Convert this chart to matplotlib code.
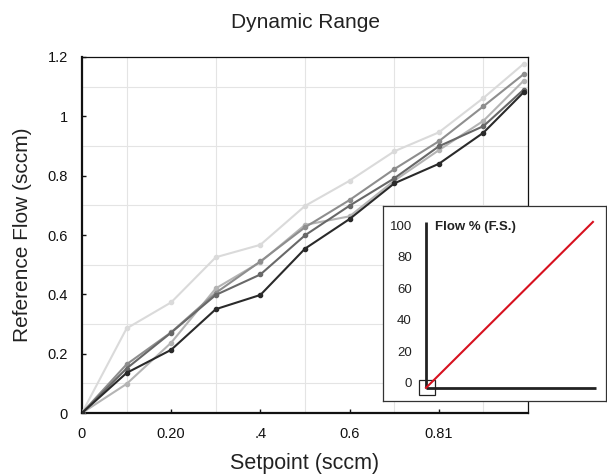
import matplotlib
matplotlib.use("Agg")
import matplotlib.pyplot as plt
from matplotlib.patches import Rectangle

plt.rcParams['font.family'] = ['Liberation Sans', 'DejaVu Sans']

# ---- data ----
setpoint = [0, 0.1, 0.2, 0.3, 0.4, 0.5, 0.6, 0.7, 0.8, 0.9, 0.99]
series_a = [0, 0.285, 0.373, 0.525, 0.567, 0.698, 0.783, 0.882, 0.946, 1.062, 1.177]
series_b = [0, 0.098, 0.237, 0.420, 0.509, 0.634, 0.663, 0.783, 0.886, 0.985, 1.120]
series_c = [0, 0.164, 0.272, 0.405, 0.511, 0.626, 0.718, 0.822, 0.916, 1.034, 1.142]
series_d = [0, 0.150, 0.271, 0.398, 0.467, 0.599, 0.699, 0.791, 0.899, 0.967, 1.090]
series_e = [0, 0.135, 0.213, 0.350, 0.398, 0.554, 0.654, 0.774, 0.840, 0.945, 1.081]
series_colors = ['#dadada', '#b4b4b4', '#8e8e8e', '#686868', '#2a2a2a']

xtick_vals = [0, 0.2, 0.4, 0.6, 0.8]
xtick_labels = ['0', '0.20', '.4', '0.6', '0.81']
ytick_vals = [0, 0.2, 0.4, 0.6, 0.8, 1.0, 1.2]
ytick_labels = ['0', '0.2', '0.4', '0.6', '0.8', '1', '1.2']

# inset schematic (Flow % of full scale)
inset_flow = [0, 100]
inset_ticks = [0, 20, 40, 60, 80, 100]

fig = plt.figure(figsize=(6.07, 4.75), dpi=100)
ax = fig.add_axes([0.135, 0.1305, 0.735, 0.7495])

for ys, c in zip([series_a, series_b, series_c, series_d, series_e], series_colors):
    ax.plot(setpoint, ys, color=c, lw=1.5, marker='o', ms=3, zorder=3)

ax.set_xlim(0, 1.0)
ax.set_ylim(0, 1.2)
ax.set_xticks([i / 10 for i in range(11)], minor=True)
ax.set_yticks([i / 10 for i in range(13)], minor=True)
ax.grid(which='minor', color='#e4e4e4', lw=0.8)
ax.set_axisbelow(True)
ax.set_xticks(xtick_vals)
ax.set_xticklabels(xtick_labels)
ax.set_yticks(ytick_vals)
ax.set_yticklabels(ytick_labels)
ax.tick_params(which='major', direction='in', length=3, width=1, colors='#111111',
               labelsize=10.5, pad=10)
ax.tick_params(which='minor', length=0)
for lbl in ax.get_xticklabels():
    lbl.set_x(lbl.get_position()[0])
for s in ['left', 'bottom']:
    ax.spines[s].set_linewidth(1.6)
    ax.spines[s].set_color('#111111')
for s in ['top', 'right']:
    ax.spines[s].set_linewidth(0.9)
    ax.spines[s].set_color('#111111')

ax.set_title('Dynamic Range', fontsize=15, color='#222222', pad=21)
ax.set_xlabel('Setpoint (sccm)', fontsize=15.5, color='#222222', labelpad=9)
ax.set_ylabel('Reference Flow (sccm)', fontsize=15, color='#222222', labelpad=11)

# ---- inset ----
ins = fig.add_axes([0.631, 0.156, 0.367, 0.4105], zorder=5)
ins.set_facecolor('white')
ins.set_xlim(-27.4, 114.6)
ins.set_ylim(-10.8, 113.4)
for s in ins.spines.values():
    s.set_color('#333333')
    s.set_linewidth(0.9)
ins.set_xticks([])
ins.set_yticks([])
base = -2.5
ins.plot([0, 0], [base, 103.2], color='#222222', lw=2, solid_capstyle='butt')
ins.plot([0, 108.3], [base, base], color='#222222', lw=2, solid_capstyle='butt')
ins.plot([0, 106.4], [base + inset_flow[0], base + inset_flow[1] * 1.057], color='#d7111f', lw=1.5)
ins.add_patch(Rectangle((-4.5, -7), 10.2, 9.5, fill=False, ec='#222222', lw=0.9))
for t in inset_ticks:
    ins.text(-9, t, str(t), ha='right', va='center', fontsize=9.5, color='#222222')
ins.text(5.5, 100, 'Flow % (F.S.)', ha='left', va='center', fontsize=9.5,
         color='#222222', fontweight='bold')

fig.savefig('out.png', dpi=100)
